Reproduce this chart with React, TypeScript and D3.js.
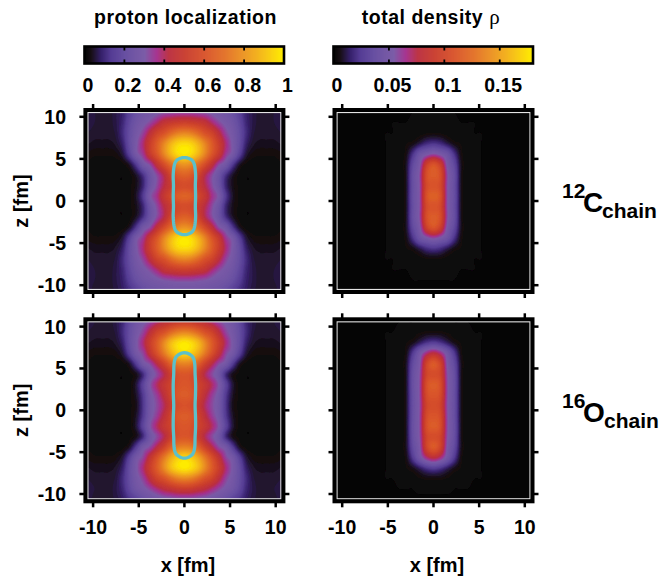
import { useMemo } from 'react'
import * as d3 from 'd3'

// grid axes in fm, measured from the middle of each chain (x >= 0, z >= 0, mirrored when drawn)
const gridX = [0, 0.75, 1.5, 2.25, 3, 3.75, 4.5, 5.25, 6, 6.75, 7.5, 8.25, 9, 9.75, 10.5, 11.25]
const gridZ = [0, 1.25, 2.5, 3.75, 5, 6.25, 7.5, 8.75, 10, 11.25, 12.5]
const axisTicks = [-10, -5, 0, 5, 10]
const locTicks = [0, 0.2, 0.4, 0.6, 0.8, 1]
const rhoTicks = [0, 0.05, 0.1, 0.15]
const rhoMax = 0.18
const contourLevel = 0.076

const locC12 = [
  [.66, .64, .56, .48, .37, .30, .14, .05, .02, .012, .012, .012, .012, .012, .015, .015],
  [.58, .56, .50, .42, .33, .24, .10, .04, .02, .012, .012, .012, .012, .012, .015, .015],
  [.66, .63, .55, .42, .33, .24, .12, .05, .02, .012, .012, .012, .012, .012, .015, .015],
  [.80, .77, .69, .58, .46, .33, .27, .14, .05, .02, .015, .015, .015, .015, .02, .02],
  [.99, .96, .88, .76, .62, .50, .36, .29, .16, .06, .03, .025, .025, .025, .03, .035],
  [.96, .94, .87, .76, .64, .52, .39, .30, .20, .09, .05, .04, .04, .04, .045, .05],
  [.76, .74, .68, .60, .54, .44, .34, .28, .20, .11, .06, .05, .05, .05, .055, .06],
  [.52, .51, .49, .46, .39, .33, .29, .25, .18, .10, .065, .05, .05, .055, .06, .06],
  [.33, .33, .32, .31, .29, .27, .25, .21, .15, .09, .065, .05, .05, .055, .06, .06],
  [.25, .25, .25, .24, .23, .22, .19, .15, .11, .08, .06, .05, .05, .05, .06, .06],
  [.20, .20, .20, .19, .18, .17, .15, .12, .09, .07, .06, .05, .05, .05, .06, .06],
]

const locO16 = [
  [.60, .58, .50, .40, .33, .27, .13, .04, .02, .012, .012, .012, .012, .012, .015, .015],
  [.64, .62, .54, .44, .35, .28, .14, .05, .02, .012, .012, .012, .012, .012, .015, .015],
  [.62, .60, .54, .48, .40, .31, .17, .06, .02, .012, .012, .012, .012, .012, .015, .015],
  [.62, .60, .52, .41, .33, .26, .11, .04, .02, .012, .012, .012, .012, .012, .015, .015],
  [.76, .74, .66, .54, .43, .33, .28, .15, .05, .02, .015, .015, .015, .015, .02, .02],
  [.96, .93, .85, .73, .60, .47, .34, .28, .16, .06, .03, .025, .025, .025, .03, .035],
  [.99, .96, .89, .77, .64, .52, .39, .30, .20, .09, .05, .04, .04, .04, .045, .05],
  [.76, .74, .68, .60, .54, .44, .34, .28, .20, .11, .06, .05, .05, .05, .055, .06],
  [.50, .49, .46, .43, .38, .33, .29, .25, .18, .10, .065, .05, .05, .055, .06, .06],
  [.30, .30, .29, .28, .26, .24, .21, .16, .12, .08, .06, .05, .05, .05, .06, .06],
  [.20, .20, .20, .19, .18, .17, .15, .12, .09, .07, .06, .05, .05, .05, .06, .06],
]

const rhoC12 = [
  [.118, .108, .058, .038, .008, .003, .003, .002, .001, 0, 0, 0, 0, 0, 0, 0],
  [.108, .102, .058, .037, .008, .003, .003, .002, .001, 0, 0, 0, 0, 0, 0, 0],
  [.115, .106, .059, .038, .008, .003, .003, .002, .001, 0, 0, 0, 0, 0, 0, 0],
  [.110, .094, .053, .033, .008, .003, .003, .002, .001, 0, 0, 0, 0, 0, 0, 0],
  [.058, .052, .042, .022, .006, .003, .003, .002, .001, 0, 0, 0, 0, 0, 0, 0],
  [.022, .019, .012, .006, .004, .003, .003, .002, .001, 0, 0, 0, 0, 0, 0, 0],
  [.004, .004, .003, .003, .003, .003, .002, .002, .001, 0, 0, 0, 0, 0, 0, 0],
  [.003, .003, .003, .003, .002, .002, .002, .001, 0, 0, 0, 0, 0, 0, 0, 0],
  [.002, .002, .002, .002, .001, .001, .001, 0, 0, 0, 0, 0, 0, 0, 0, 0],
  [.001, .001, .001, .001, 0, 0, 0, 0, 0, 0, 0, 0, 0, 0, 0, 0],
  [0, 0, 0, 0, 0, 0, 0, 0, 0, 0, 0, 0, 0, 0, 0, 0],
]

const rhoO16 = [
  [.104, .098, .058, .038, .008, .003, .003, .002, .001, 0, 0, 0, 0, 0, 0, 0],
  [.110, .103, .059, .038, .008, .003, .003, .002, .001, 0, 0, 0, 0, 0, 0, 0],
  [.115, .106, .059, .039, .008, .003, .003, .002, .001, 0, 0, 0, 0, 0, 0, 0],
  [.104, .098, .058, .038, .008, .003, .003, .002, .001, 0, 0, 0, 0, 0, 0, 0],
  [.114, .098, .054, .034, .008, .003, .003, .002, .001, 0, 0, 0, 0, 0, 0, 0],
  [.078, .068, .048, .025, .006, .003, .003, .002, .001, 0, 0, 0, 0, 0, 0, 0],
  [.026, .022, .014, .007, .004, .003, .003, .002, .001, 0, 0, 0, 0, 0, 0, 0],
  [.005, .005, .004, .003, .003, .003, .002, .002, .001, 0, 0, 0, 0, 0, 0, 0],
  [.003, .003, .003, .002, .002, .002, .001, .001, 0, 0, 0, 0, 0, 0, 0, 0],
  [.001, .001, .001, .001, 0, 0, 0, 0, 0, 0, 0, 0, 0, 0, 0, 0],
  [0, 0, 0, 0, 0, 0, 0, 0, 0, 0, 0, 0, 0, 0, 0, 0],
]

const colorStops = [0, .03, .08, .13, .2, .3, .36, .42, .5, .6, .7, .8, .9, 1]
const colorValues = ['#050505', '#170f14', '#35206a', '#553c94', '#6850a2', '#7a5aa6', '#a4308e', '#bb2f40', '#c83c2e', '#d8522a', '#e27026', '#ec9622', '#f6c016', '#fff000']
const heat = d3.scaleLinear<string>().domain(colorStops).range(colorValues).clamp(true)

const FONT = '"Liberation Sans", Arial, sans-serif'
const UP = 5

// catmull-rom along one row, only to draw the coarse read-off grid smoothly
function upRow(row: number[]) {
  const out: number[] = []
  for (let i = 0; i < row.length - 1; i++) {
    const p0 = row[Math.max(i - 1, 0)], p1 = row[i], p2 = row[i + 1], p3 = row[Math.min(i + 2, row.length - 1)]
    for (let k = 0; k < UP; k++) {
      const t = k / UP
      out.push(0.5 * (2 * p1 + (p2 - p0) * t + (2 * p0 - 5 * p1 + 4 * p2 - p3) * t * t + (3 * p1 - p0 - 3 * p2 + p3) * t * t * t))
    }
  }
  out.push(row[row.length - 1])
  return out
}

function buildField(quad: number[][]) {
  const mirrored = quad.map(r => [...r.slice(1).reverse(), ...r])
  const rows = [...mirrored.slice().reverse(), ...mirrored.slice(1)] // top row is +z
  const wide = rows.map(upRow)
  const w = wide[0].length
  const cols = d3.range(w).map(i => upRow(wide.map(r => r[i])))
  const h = cols[0].length
  const values = new Array(w * h)
  for (let j = 0; j < h; j++) for (let i = 0; i < w; i++) values[j * w + i] = Math.max(0, cols[i][j])
  return { values, w, h }
}

const zMax = gridZ[gridZ.length - 1]
const xMax = gridX[gridX.length - 1]
const levels = d3.range(1, 90).map(i => i / 90)

type PanelProps = { id: string, cx: number, cy: number, sy: number, field: number[][], norm: number, ring?: number[][], left: boolean, bottom: boolean }

function Panel({ id, cx, cy, sy, field, norm, ring, left, bottom }: PanelProps) {
  const zShift = 0.58
  const x = d3.scaleLinear().domain([-10, 10]).range([cx - 91.3, cx + 91.3])
  const z = d3.scaleLinear().domain([-10, 10]).range([cy + sy * 10, cy - sy * 10])

  const { bands, ringPath } = useMemo(() => {
    const f = buildField(field)
    const projection = d3.geoTransform({
      point(px: number, py: number) {
        const fx = -xMax + ((px - 0.5) / (f.w - 1)) * 2 * xMax
        const fz = zShift + zMax - ((py - 0.5) / (f.h - 1)) * 2 * zMax
        this.stream.point(x(fx), z(fz))
      },
    })
    const path = d3.geoPath(projection)
    const contours = d3.contours().size([f.w, f.h]).thresholds(levels.map(l => l * norm))(f.values)
    const bands = contours.map(c => ({ d: path(c as any) || '', color: heat(c.value / norm) }))
    let ringPath = ''
    if (ring) {
      const r = buildField(ring)
      const rc = d3.contours().size([r.w, r.h]).thresholds([contourLevel])(r.values)
      ringPath = path(rc[0] as any) || ''
    }
    return { bands, ringPath }
  }, [])

  const l = cx - 99, r = cx + 99, t = cy - 91, b = cy + 91
  return (
    <g>
      <clipPath id={`clip-${id}`}><rect x={l} y={t} width={r - l} height={b - t} /></clipPath>
      <g clipPath={`url(#clip-${id})`}>
        <rect x={l} y={t} width={r - l} height={b - t} fill={heat(0)} />
        <g filter="url(#soft)">
          {bands.map((c, i) => <path key={i} d={c.d} fill={c.color} />)}
          {ringPath && <path d={ringPath} fill="none" stroke="#5cc0ca" strokeWidth={3.3} />}
        </g>
      </g>
      <rect x={l + 2.4} y={t + 2.4} width={r - l - 4.8} height={b - t - 4.8} fill="none" stroke="#e4e4e4" strokeWidth={1.4} />
      <rect x={l} y={t} width={r - l} height={b - t} fill="none" stroke="#000" strokeWidth={4} />
      {axisTicks.map(v => (
        <g key={v} stroke="#000" strokeWidth={2.5}>
          <line x1={x(v)} x2={x(v)} y1={t - 6} y2={t} />
          <line x1={x(v)} x2={x(v)} y1={b} y2={b + 6} />
          <line y1={z(v)} y2={z(v)} x1={l - 6} x2={l} />
          <line y1={z(v)} y2={z(v)} x1={r} x2={r + 6} />
        </g>
      ))}
      {left && axisTicks.map(v => (
        <text key={v} x={66} y={z(v) + 7} textAnchor="end" fontFamily={FONT} fontWeight="bold" fontSize={19.5}>{v}</text>
      ))}
      {bottom && axisTicks.map(v => (
        <text key={v} x={x(v)} y={534} textAnchor="middle" fontFamily={FONT} fontWeight="bold" fontSize={19.5}>{v}</text>
      ))}
      {left && (
        <text transform={`translate(28,${cy}) rotate(-90)`} textAnchor="middle" fontFamily={FONT} fontWeight="bold" fontSize={20}>z [fm]</text>
      )}
      {bottom && (
        <text x={cx + 3.5} y={572} textAnchor="middle" fontFamily={FONT} fontWeight="bold" fontSize={20}>x [fm]</text>
      )}
    </g>
  )
}

function ColorBar({ x0, x1, max, ticks }: { x0: number, x1: number, max: number, ticks: number[] }) {
  const scale = d3.scaleLinear().domain([0, max]).range([x0, x1])
  const steps = d3.range(0, 200).map(i => (i / 200) * max)
  const top = 46.5, bottom = 63.5
  return (
    <g>
      {steps.map((v, i) => (
        <rect key={i} x={scale(v)} y={top} width={scale(max / 200) - x0 + 0.6} height={bottom - top} fill={heat(v / max)} />
      ))}
      <rect x={x0} y={top} width={x1 - x0} height={bottom - top} fill="none" stroke="#000" strokeWidth={2.6} />
      {ticks.map(v => (
        <g key={v}>
          {v > 0 && v < max && <line x1={scale(v)} x2={scale(v)} y1={top} y2={top + 4} stroke="#000" strokeWidth={1.8} />}
          {v > 0 && v < max && <line x1={scale(v)} x2={scale(v)} y1={bottom - 4} y2={bottom} stroke="#000" strokeWidth={1.8} />}
          <text x={scale(v) + 3.5} y={92} textAnchor="middle" fontFamily={FONT} fontWeight="bold" fontSize={19.5}>{v}</text>
        </g>
      ))}
    </g>
  )
}

function ChainLabel({ y, mass, el, chainX }: { y: number, mass: string, el: string, chainX: number }) {
  return (
    <text fontFamily={FONT} fontWeight="bold">
      <tspan x={562} y={y - 14} fontSize={21}>{mass}</tspan>
      <tspan x={583} y={y} fontSize={28}>{el}</tspan>
      <tspan x={chainX} y={y + 6} fontSize={21}>chain</tspan>
    </text>
  )
}

export default function App() {
  return (
    <svg width={660} height={580} style={{ position: 'absolute', left: 0, top: 0, background: '#fff' }}>
      <defs>
        <filter id="soft" x="-5%" y="-5%" width="110%" height="110%"><feGaussianBlur stdDeviation={0.7} /></filter>
      </defs>
      <text x={185.5} y={24} textAnchor="middle" fontFamily={FONT} fontWeight="bold" fontSize={19.5} letterSpacing={0.5}>proton localization</text>
      <text x={431} y={24} textAnchor="middle" fontFamily={FONT} fontWeight="bold" fontSize={19.5} letterSpacing={0.5}>
        total density <tspan fontFamily='"Liberation Serif", serif' fontWeight="normal" fontSize={21}>ρ</tspan>
      </text>
      <ColorBar x0={84.5} x1={284} max={1} ticks={locTicks} />
      <ColorBar x0={333.5} x1={533} max={rhoMax} ticks={rhoTicks} />
      <Panel id="a" cx={184.4} cy={201} sy={8.42} field={locC12} norm={1} ring={rhoC12} left bottom={false} />
      <Panel id="b" cx={433.5} cy={201} sy={8.42} field={rhoC12} norm={rhoMax} left={false} bottom={false} />
      <Panel id="c" cx={184.4} cy={410.3} sy={8.37} field={locO16} norm={1} ring={rhoO16} left bottom />
      <Panel id="d" cx={433.5} cy={410.3} sy={8.37} field={rhoO16} norm={rhoMax} left={false} bottom />
      <ChainLabel y={212} mass="12" el="C" chainX={602} />
      <ChainLabel y={422} mass="16" el="O" chainX={604} />
    </svg>
  )
}
